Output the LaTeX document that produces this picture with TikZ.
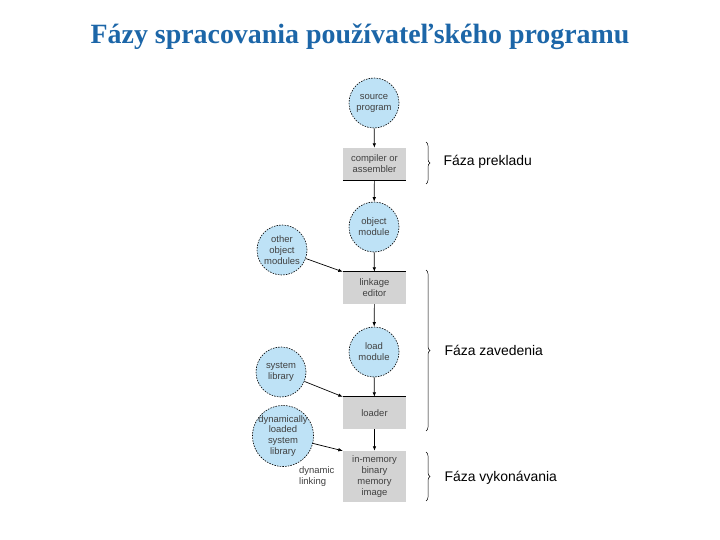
\documentclass[tikz,border=0pt]{standalone}
\usepackage{fontspec}
\setmainfont{Liberation Serif}
\setsansfont{Liberation Sans}
\usetikzlibrary{decorations.pathreplacing,arrows.meta}
\definecolor{titleblue}{RGB}{28,102,168}
\definecolor{circfill}{RGB}{190,226,246}
\definecolor{boxfill}{RGB}{211,211,211}
\definecolor{txtgray}{RGB}{65,65,65}
\begin{document}
\begin{tikzpicture}[x=1bp,y=-1bp,
 circ/.style={circle,draw=black,dashed,dash pattern=on 1.5bp off 1.2bp,fill=circfill,minimum size=50bp,inner sep=0pt,
   font=\sffamily\fontsize{9.5}{11}\selectfont,text=txtgray,align=center,line width=0.6bp},
 gbox/.style={fill=boxfill,minimum width=63bp,inner sep=0pt,font=\sffamily\fontsize{9.5}{11}\selectfont,text=txtgray,align=center},
 arr/.style={-{Latex[length=4.5bp,width=3.5bp]},line width=0.7bp},
 brc/.style={decorate,decoration={brace,amplitude=4bp},line width=0.5bp},
 phase/.style={anchor=west,font=\sffamily\fontsize{14}{16}\selectfont,text=black},
 topline/.style={line width=0.9bp}
]
\useasboundingbox (0,0) rectangle (720,540);
\node[font=\bfseries\fontsize{28}{32}\selectfont,text=titleblue] (title) at (360,37) {Fázy spracovania používateľského programu};

\node[circ] (src) at (374,103) {source\\program};
\node[gbox,minimum height=32bp] (comp) at (374.5,164) {compiler or\\assembler};
\node[circ] (obj) at (374,227) {object\\module};
\node[circ] (other) at (282,250) {other\\object\\modules};
\node[gbox,minimum height=32bp] (link) at (374.5,288) {linkage\\editor};
\node[circ] (load) at (374,352) {load\\module};
\node[circ] (sys) at (281,372) {system\\library};
\node[gbox,minimum height=32bp] (loader) at (374.5,413) {loader};
\node[circ,minimum size=61bp,inner sep=-5bp] (dyn) at (283,436) {dynamically\\loaded\\system\\library};
\node[gbox,minimum height=51bp] (mem) at (374.5,476.5) {in-memory\\binary\\memory\\image};
\node[anchor=north west,align=left,font=\sffamily\fontsize{9.5}{11}\selectfont,text=txtgray,inner sep=0pt] (dl) at (299,466) {dynamic\\linking};

\draw[topline] (comp.south west) -- (comp.south east);
\draw[topline] (link.north west) -- (link.north east);
\draw[topline] (loader.north west) -- (loader.north east);

\draw[arr] (src) -- (comp);
\draw[arr] (comp) -- (obj);
\draw[arr] (obj) -- (link);
\draw[arr] (link) -- (load);
\draw[arr] (load) -- (loader);
\draw[arr] (loader) -- (mem);
\draw[arr] (other) -- (link.north west);
\draw[arr] (sys) -- (loader.north west);
\draw[arr] (dyn) -- (mem.north west);

\coordinate (b1a) at (426,142); \coordinate (b1b) at (426,184);
\coordinate (b2a) at (426,270); \coordinate (b2b) at (426,431);
\coordinate (b3a) at (426,452); \coordinate (b3b) at (426,501);
\draw[brc] (b1a) -- (b1b);
\draw[brc] (b2a) -- (b2b);
\draw[brc] (b3a) -- (b3b);
\node[phase] (p1) at (440,162) {Fáza prekladu};
\node[phase] (p2) at (441,350) {Fáza zavedenia};
\node[phase] (p3) at (441,478) {Fáza vykonávania};
\end{tikzpicture}
\end{document}
